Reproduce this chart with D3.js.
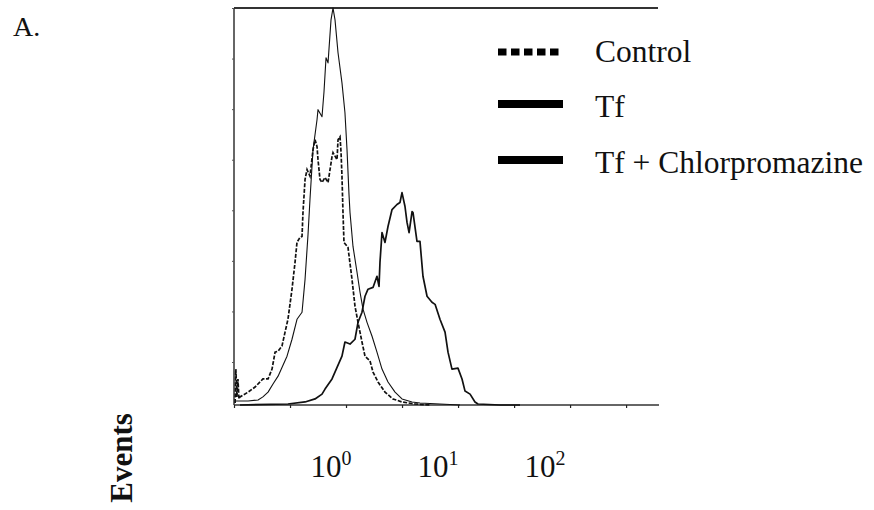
<!DOCTYPE html>
<html>
<head>
<meta charset="utf-8">
<title>Events histogram</title>
<script src="https://cdnjs.cloudflare.com/ajax/libs/d3/7.8.5/d3.min.js"></script>
<style>
    body { margin: 0; background: #fff; }
    text { font-family: "Liberation Serif", "Times New Roman", serif; fill: #111; }
</style>
</head>
<body>
<script>
    var width = 874, height = 510;

    // [fluorescence intensity, events]
    var control = [
        [0.127, 0.8], [0.129, 14.2], [0.132, 3.2], [0.135, 10.3], [0.138, 2.4], [0.141, 3.2],
        [0.168, 5.1], [0.195, 7.1], [0.231, 10.3], [0.258, 10.3], [0.281, 14.2], [0.300, 20.9],
        [0.320, 21.3], [0.348, 23.3], [0.372, 28.8], [0.396, 33.9], [0.432, 45.8], [0.461, 56.4],
        [0.481, 64.3], [0.513, 66.3], [0.536, 66.7], [0.547, 76.1], [0.572, 89.2], [0.597, 93.1],
        [0.636, 90.5], [0.679, 101.0], [0.709, 104.9], [0.740, 102.2], [0.756, 97.0], [0.789, 89.2],
        [0.824, 88.0], [0.879, 90.0], [0.938, 88.0], [1.022, 98.2], [1.044, 99.8], [1.138, 97.0],
        [1.163, 104.9], [1.214, 106.1], [1.240, 100.2], [1.266, 90.5], [1.294, 76.1], [1.322, 64.3],
        [1.441, 62.3], [1.571, 49.7], [1.675, 39.1], [1.788, 32.7], [1.948, 24.9], [2.078, 19.3],
        [2.314, 17.4], [2.469, 13.0], [2.750, 9.1], [3.196, 5.1], [3.797, 2.4], [4.607, 1.2],
        [6.097, 0.4], [8.42, 0]
    ];

    var tf = [
        [0.141, 0], [0.396, 0.4], [0.572, 1.2], [0.709, 2.4], [0.824, 4.3], [0.879, 6.3],
        [1.022, 10.3], [1.163, 15.8], [1.266, 19.3], [1.350, 24.9], [1.505, 24.1], [1.675, 26.0],
        [1.788, 32.7], [1.948, 36.7], [2.078, 43.0], [2.217, 45.8], [2.469, 46.5], [2.688, 50.9],
        [2.809, 46.9], [2.868, 56.4], [2.996, 68.2], [3.196, 64.3], [3.408, 70.6], [3.718, 77.3],
        [4.134, 79.3], [4.410, 80.1], [4.607, 84.0], [4.914, 78.5], [5.133, 72.2], [5.363, 68.2],
        [5.720, 76.5], [5.840, 76.1], [6.360, 64.7], [6.783, 64.7], [7.234, 50.9], [7.896, 43.0],
        [8.778, 40.6], [9.384, 39.8], [10.43, 33.9], [11.63, 28.8], [12.40, 20.9], [13.50, 14.2],
        [15.36, 14.6], [16.76, 10.3], [17.88, 5.5], [19.93, 4.3], [22.15, 1.2], [23.62, 0.4],
        [37.97, 0], [58.4, 0]
    ];

    var tfCpz = [
        [0.127, 1.6], [0.168, 1.6], [0.208, 2.0], [0.231, 3.2], [0.258, 5.1], [0.287, 8.3],
        [0.320, 11.4], [0.388, 19.3], [0.432, 26.0], [0.481, 33.9], [0.536, 36.7], [0.572, 49.7],
        [0.610, 67.5], [0.636, 81.3], [0.679, 101.0], [0.740, 112.8], [0.756, 116.8], [0.824, 114.0],
        [0.860, 123.9], [0.898, 137.3], [0.938, 135.3], [1.000, 152.3], [1.044, 157], [1.090, 152.3],
        [1.163, 139.3], [1.266, 127.4], [1.350, 115.6], [1.411, 101.0], [1.473, 83.2], [1.505, 76.1],
        [1.605, 62.7], [1.750, 52.5], [1.867, 44.6], [1.991, 37.9], [2.170, 32.7], [2.418, 27.2],
        [2.688, 20.9], [2.996, 14.2], [3.408, 9.1], [3.966, 5.1], [4.607, 2.4], [5.720, 1.2],
        [6.783, 0.8], [10.43, 0.4], [16.05, 0]
    ];

    var xDomain = [0.124, 1137];
    var yMax = 157;
    var decadeTicks = [1, 10, 100];
    var decadeLabels = ["0", "1", "2"];
    var minorTicks = [0.124, 0.414, 1.381, 4.61, 15.39, 51.4, 171.4, 572];
    var eventTicks = [157, 137, 117, 97, 77, 57, 37, 17];
    var legendNames = ["Control", "Tf", "Tf + Chlorpromazine"];

    var svg = d3.select("body").append("svg")
        .attr("width", width)
        .attr("height", height);

    var plotLeft = 234, plotRight = 658, plotTop = 8, plotBottom = 405;

    var x = d3.scaleLog().domain(xDomain).range([plotLeft, plotRight]);
    var y = d3.scaleLinear().domain([0, yMax]).range([plotBottom, plotTop]);

    // frame: top line + axes
    svg.append("line")
        .attr("x1", plotLeft).attr("x2", plotRight)
        .attr("y1", plotTop).attr("y2", plotTop)
        .attr("stroke", "#333").attr("stroke-width", 1.8);

    var xAxis = d3.axisBottom(x)
        .tickValues(minorTicks)
        .tickSize(3)
        .tickFormat("");
    var gx = svg.append("g")
        .attr("transform", "translate(0," + plotBottom + ")")
        .call(xAxis);
    gx.select(".domain").attr("stroke", "#333").attr("stroke-width", 1.6)
        .attr("d", "M" + plotLeft + ",0H" + (plotRight + 1));
    gx.selectAll(".tick line").attr("stroke", "#222").attr("stroke-width", 1.2);

    var yAxis = d3.axisLeft(y)
        .tickValues(eventTicks)
        .tickSize(2)
        .tickFormat("");
    var gy = svg.append("g")
        .attr("transform", "translate(" + plotLeft + ",0)")
        .call(yAxis);
    gy.select(".domain").attr("stroke", "#333").attr("stroke-width", 1.5)
        .attr("d", "M0," + plotTop + "V" + plotBottom);
    gy.selectAll(".tick line").attr("stroke", "#555").attr("stroke-width", 1);

    // decade labels 10^n
    var lab = svg.append("g").selectAll("text")
        .data(decadeTicks)
        .enter().append("text")
        .attr("x", function (d) { return x(d); })
        .attr("y", 477)
        .attr("text-anchor", "middle")
        .attr("font-size", 31);
    lab.append("tspan").text("10");
    lab.append("tspan")
        .attr("dy", -12)
        .attr("font-size", 20)
        .text(function (d, i) { return decadeLabels[i]; });

    svg.append("text")
        .attr("transform", "translate(132,458) rotate(-90)")
        .attr("text-anchor", "middle")
        .attr("font-size", 31)
        .attr("font-weight", "bold")
        .text("Events");

    svg.append("text")
        .attr("x", 13).attr("y", 36)
        .attr("font-size", 28)
        .text("A.");

    // histograms
    var line = d3.line()
        .x(function (d) { return x(d[0]); })
        .y(function (d) { return y(d[1]); });

    svg.append("path").datum(tf)
        .attr("d", line)
        .attr("fill", "none").attr("stroke", "#111")
        .attr("stroke-width", 1.7).attr("stroke-linejoin", "round");

    svg.append("path").datum(tfCpz)
        .attr("d", line)
        .attr("fill", "none").attr("stroke", "#111")
        .attr("stroke-width", 1.1).attr("stroke-linejoin", "round");

    svg.append("path").datum(control)
        .attr("d", line)
        .attr("fill", "none").attr("stroke", "#111")
        .attr("stroke-width", 1.7)
        .attr("stroke-dasharray", "4,1.6");

    // legend
    var legendY = [52, 104, 160];
    var legend = svg.append("g").selectAll("g")
        .data(legendNames)
        .enter().append("g")
        .attr("transform", function (d, i) { return "translate(0," + legendY[i] + ")"; });

    legend.append("line")
        .attr("x1", 498).attr("x2", 563)
        .attr("stroke", "#000")
        .attr("stroke-width", function (d, i) { return i === 0 ? 7 : 8; })
        .attr("stroke-dasharray", function (d, i) { return i === 0 ? "8.5,4.5" : null; });

    legend.append("text")
        .attr("x", 595)
        .attr("y", function (d, i) { return i === 0 ? 10 : 13; })
        .attr("font-size", 31.5)
        .text(function (d) { return d; });
</script>
</body>
</html>
